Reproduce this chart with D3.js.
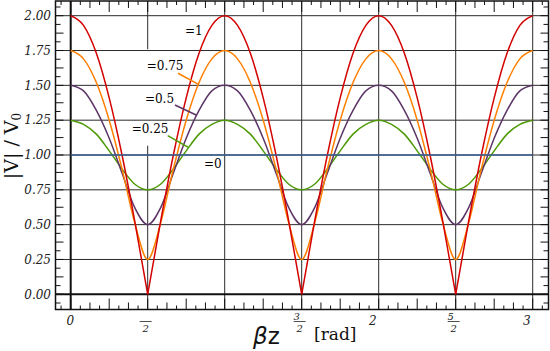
<!DOCTYPE html>
<html>
<head>
<meta charset="utf-8">
<title>Standing wave |V| / V0</title>
<style>
  body { margin: 0; background: #fff; }
  svg { display: block; }
</style>
</head>
<body>
<svg width="550" height="351"></svg>
<script src="https://d3js.org/d3.v7.min.js"></script>
<script>
// samples of βz every π/12, in units of π (0 .. 3π)
var betaZ = d3.range(37).map(function (k) { return k / 12; });

// |V| / V0, one array per |Γ|
var gamma1 = [2.00, 1.93, 1.73, 1.41, 1.00, 0.52, 0.00, 0.52, 1.00, 1.41, 1.73, 1.93, 2.00,
  1.93, 1.73, 1.41, 1.00, 0.52, 0.00, 0.52, 1.00, 1.41, 1.73, 1.93, 2.00,
  1.93, 1.73, 1.41, 1.00, 0.52, 0.00, 0.52, 1.00, 1.41, 1.73, 1.93, 2.00];
var gamma075 = [1.75, 1.69, 1.52, 1.25, 0.90, 0.51, 0.25, 0.51, 0.90, 1.25, 1.52, 1.69, 1.75,
  1.69, 1.52, 1.25, 0.90, 0.51, 0.25, 0.51, 0.90, 1.25, 1.52, 1.69, 1.75,
  1.69, 1.52, 1.25, 0.90, 0.51, 0.25, 0.51, 0.90, 1.25, 1.52, 1.69, 1.75];
var gamma05 = [1.50, 1.46, 1.32, 1.12, 0.87, 0.62, 0.50, 0.62, 0.87, 1.12, 1.32, 1.46, 1.50,
  1.46, 1.32, 1.12, 0.87, 0.62, 0.50, 0.62, 0.87, 1.12, 1.32, 1.46, 1.50,
  1.46, 1.32, 1.12, 0.87, 0.62, 0.50, 0.62, 0.87, 1.12, 1.32, 1.46, 1.50];
var gamma025 = [1.25, 1.22, 1.15, 1.03, 0.90, 0.79, 0.75, 0.79, 0.90, 1.03, 1.15, 1.22, 1.25,
  1.22, 1.15, 1.03, 0.90, 0.79, 0.75, 0.79, 0.90, 1.03, 1.15, 1.22, 1.25,
  1.22, 1.15, 1.03, 0.90, 0.79, 0.75, 0.79, 0.90, 1.03, 1.15, 1.22, 1.25];
var gamma0 = [1, 1, 1, 1, 1, 1, 1, 1, 1, 1, 1, 1, 1, 1, 1, 1, 1, 1, 1,
  1, 1, 1, 1, 1, 1, 1, 1, 1, 1, 1, 1, 1, 1, 1, 1, 1, 1];

// tick labels (the π glyph is missing in the original, only the numbers are shown)
var yTicks = [0, 0.25, 0.5, 0.75, 1, 1.25, 1.5, 1.75, 2];
var xTicks = [0, 0.5, 1, 1.5, 2, 2.5, 3];
var xTickNum = ["0", "", "", "3", "2", "5", "3"];
var xTickDen = ["", "2", "", "2", "", "2", ""];

// curve labels: text, anchor (βz/π, value), leader from / to
var labelText = ["=1", "=0.75", "=0.5", "=0.25", "=0"];
var labelAt = [[0.742, 1.858], [0.4935, 1.608], [0.482, 1.370], [0.396, 1.160], [0.866, 0.907]];
var leaderFrom = [null, [0.697, 1.587], [0.677, 1.359], [0.630, 1.139], null];
var leaderTo = [null, [0.827, 1.509], [0.818, 1.285], [0.764, 1.055], null];

var svg = d3.select("svg");
var frame = { left: 55.5, right: 548.5, top: 1, bottom: 309.5 };

var x = d3.scaleLinear().domain([0, 3]).range([70.7, 532.7]);
var y = d3.scaleLinear().domain([0, 2]).range([294.3, 15.7]);

var xMin = x.invert(frame.left), xMax = x.invert(frame.right);
var yMin = y.invert(frame.bottom), yMax = y.invert(frame.top);

var series = [
  { values: gamma025, color: "#4e9a06" },
  { values: gamma05, color: "#5c3566" },
  { values: gamma075, color: "#ff8000" },
  { values: gamma1, color: "#d40000", cusp: true },
  { values: gamma0, color: "#3a6095" }
];
var labelColor = ["#d40000", "#ff8000", "#5c3566", "#4e9a06", "#3a6095"];

// vertical grid lines
svg.append("g").selectAll("line")
  .data(xTicks.slice(1))
  .enter().append("line")
  .attr("x1", function (d) { return x(d); })
  .attr("x2", function (d) { return x(d); })
  .attr("y1", frame.top).attr("y2", frame.bottom)
  .attr("stroke", "#2a2a2a").attr("stroke-width", 1);

// curve labels
var labelG = svg.append("g");
var labels = labelG.selectAll("text")
  .data(labelText)
  .enter().append("text")
  .attr("x", function (d, i) { return x(labelAt[i][0]); })
  .attr("y", function (d, i) { return y(labelAt[i][1]); })
  .attr("font-family", "DejaVu Serif")
  .attr("font-size", 12)
  .attr("fill", "#000")
  .text(function (d) { return d; });

// white boxes behind the labels that have leaders
var boxG = svg.insert("g", function () { return labelG.node(); });
labels.each(function (d, i) {
  if (!leaderFrom[i]) return;
  var b = this.getBBox();
  boxG.append("rect")
    .attr("x", b.x - 3).attr("y", b.y - 10)
    .attr("width", b.width + 6).attr("height", b.height + 20)
    .attr("fill", "#fff");
});

// horizontal grid lines
var gridH = svg.insert("g", function () { return labelG.node(); });
gridH.selectAll("line")
  .data(yTicks.slice(1))
  .enter().append("line")
  .attr("x1", frame.left).attr("x2", frame.right)
  .attr("y1", function (d) { return y(d); })
  .attr("y2", function (d) { return y(d); })
  .attr("stroke", "#2a2a2a").attr("stroke-width", 1);

// zero lines
var zeroG = svg.insert("g", function () { return labelG.node(); });
zeroG.append("line")
  .attr("x1", x(0)).attr("x2", x(0))
  .attr("y1", frame.top).attr("y2", frame.bottom)
  .attr("stroke", "#111").attr("stroke-width", 2);
zeroG.append("line")
  .attr("x1", frame.left).attr("x2", frame.right)
  .attr("y1", y(0)).attr("y2", y(0))
  .attr("stroke", "#111").attr("stroke-width", 2);

// curves
var line = d3.line()
  .x(function (d) { return x(d[0]); })
  .y(function (d) { return y(d[1]); })
  .curve(d3.curveMonotoneX);

var curveG = svg.insert("g", function () { return labelG.node(); });
series.forEach(function (s) {
  var pts = betaZ.map(function (b, i) { return [b, s.values[i]]; });
  var pieces = [pts];
  if (s.cusp) {
    // split at the zeros so the cusps stay sharp
    pieces = [];
    var start = 0;
    pts.forEach(function (p, i) {
      if (i > 0 && p[1] === 0) { pieces.push(pts.slice(start, i + 1)); start = i; }
    });
    pieces.push(pts.slice(start));
  }
  pieces.forEach(function (pc) {
    curveG.append("path")
      .attr("d", line(pc))
      .attr("fill", "none")
      .attr("stroke", s.color)
      .attr("stroke-width", 1.5);
  });
});

// leaders
labelText.forEach(function (t, i) {
  if (!leaderFrom[i]) return;
  curveG.append("line")
    .attr("x1", x(leaderFrom[i][0])).attr("y1", y(leaderFrom[i][1]))
    .attr("x2", x(leaderTo[i][0])).attr("y2", y(leaderTo[i][1]))
    .attr("stroke", labelColor[i]).attr("stroke-width", 1.5);
});

// minor ticks
var tickG = svg.append("g").attr("stroke", "#111").attr("stroke-width", 1);
d3.range(-4, 60)
  .filter(function (k) { var v = k / 16; return v > xMin && v < xMax; })
  .forEach(function (k) {
    var len = k % 4 === 0 ? 11 : (k % 2 === 0 ? 7 : 4);
    var px = x(k / 16);
    tickG.append("line").attr("x1", px).attr("x2", px)
      .attr("y1", frame.bottom).attr("y2", frame.bottom - len);
    tickG.append("line").attr("x1", px).attr("x2", px)
      .attr("y1", frame.top).attr("y2", frame.top + len);
  });
d3.range(-4, 40)
  .filter(function (j) { var v = j / 16; return v > yMin && v < yMax; })
  .forEach(function (j) {
    var len = j % 2 === 0 ? 8 : 5;
    var py = y(j / 16);
    tickG.append("line").attr("y1", py).attr("y2", py)
      .attr("x1", frame.left).attr("x2", frame.left + len);
    tickG.append("line").attr("y1", py).attr("y2", py)
      .attr("x1", frame.right).attr("x2", frame.right - len);
  });

// frame
svg.append("rect")
  .attr("x", frame.left).attr("y", frame.top)
  .attr("width", frame.right - frame.left)
  .attr("height", frame.bottom - frame.top)
  .attr("fill", "none").attr("stroke", "#111").attr("stroke-width", 1.5);

// y tick labels
svg.append("g").selectAll("text")
  .data(yTicks)
  .enter().append("text")
  .attr("x", 51)
  .attr("y", function (d) { return y(d) + 4.3; })
  .attr("text-anchor", "end")
  .attr("font-family", "DejaVu Serif")
  .attr("font-style", "italic")
  .attr("font-size", 12)
  .attr("fill", "#222")
  .text(function (d) { return d.toFixed(2); });

// x tick labels
var xl = svg.append("g").attr("font-family", "DejaVu Serif").attr("font-style", "italic").attr("fill", "#222");
xTicks.forEach(function (t, i) {
  var px = x(t);
  if (xTickDen[i] === "") {
    if (xTickNum[i] === "") return;
    xl.append("text")
      .attr("x", t === 0 ? px - 0.5 : px - 6)
      .attr("y", 325)
      .attr("text-anchor", "middle")
      .attr("font-size", 12)
      .text(xTickNum[i]);
  } else {
    if (xTickNum[i] !== "") {
      xl.append("text")
        .attr("x", px - 5).attr("y", 320)
        .attr("text-anchor", "middle").attr("font-size", 10)
        .text(xTickNum[i]);
    }
    xl.append("line")
      .attr("x1", px - 8).attr("x2", px + 4)
      .attr("y1", 321.5).attr("y2", 321.5)
      .attr("stroke", "#222").attr("stroke-width", 0.8);
    xl.append("text")
      .attr("x", px - 2).attr("y", 331.5)
      .attr("text-anchor", "middle").attr("font-size", 10)
      .text(xTickDen[i]);
  }
});

// axis titles
var xt = svg.append("text")
  .attr("x", 253).attr("y", 344)
  .attr("font-family", "DejaVu Sans")
  .attr("font-size", 23)
  .attr("fill", "#111");
xt.append("tspan").attr("font-style", "italic").text("β");
xt.append("tspan").text("z");
svg.append("text")
  .attr("x", 314).attr("y", 340)
  .attr("font-family", "DejaVu Serif")
  .attr("font-size", 17)
  .attr("fill", "#111")
  .text("[rad]");

var yt = svg.append("text")
  .attr("transform", "translate(17.5,146) rotate(-90)")
  .attr("text-anchor", "middle")
  .attr("font-family", "DejaVu Serif")
  .attr("font-size", 19)
  .attr("fill", "#111");
yt.append("tspan").text("|V| / V");
yt.append("tspan").attr("font-size", 12).attr("dy", 3).text("0");
</script>
</body>
</html>
